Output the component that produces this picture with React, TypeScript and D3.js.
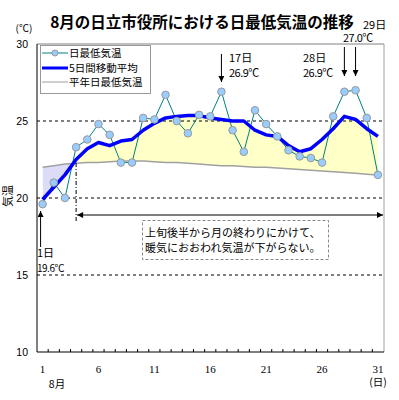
import * as d3 from "d3";

const days = d3.range(1, 32);
const minTemp = [
  19.6, 21.0, 20.0, 23.3, 23.8, 24.8, 24.1, 22.3, 22.3, 25.2,
  25.1, 26.7, 25.0, 24.2, 25.4, 25.3, 26.9, 24.4, 23.0, 25.7,
  24.8, 24.0, 23.1, 22.7, 22.6, 22.3, 25.3, 26.9, 27.0, 25.2, 21.5,
];
const movingAvg = [
  19.9, 20.7, 21.5, 22.5, 23.2, 23.6, 23.4, 23.7, 23.8, 24.4,
  24.85, 25.2, 25.3, 25.35, 25.35, 25.2, 25.1, 25.0, 25.0, 24.4,
  24.1, 24.0, 23.4, 23.0, 23.2, 23.8, 24.5, 25.3, 25.1, 24.5, 24.0,
];
const normal = [
  22.0, 22.1, 22.2, 22.25, 22.3, 22.3, 22.35, 22.4, 22.4, 22.4,
  22.35, 22.3, 22.3, 22.25, 22.2, 22.15, 22.1, 22.1, 22.05, 22.0,
  22.0, 21.95, 21.9, 21.85, 21.8, 21.75, 21.7, 21.65, 21.6, 21.55, 21.5,
];
const yTicks = [10, 15, 20, 25, 30];
const xTickDays = [1, 6, 11, 16, 21, 26, 31];
const legendLabels = ["日最低気温", "5日間移動平均", "平年日最低気温"];

const jp = "'Noto Sans CJK JP', sans-serif";

export default function App() {
  const width = 399;
  const height = 400;
  const left = 37;
  const right = 383.5;
  const top = 44;
  const bottom = 352;

  const x = d3.scaleBand<number>().domain(days).range([left, right]).padding(0);
  const cx = (d: number) => (x(d) as number) + x.bandwidth() / 2;
  const y = d3.scaleLinear().domain([10, 30]).range([bottom, top]);

  const idx = days.map((_, i) => i);

  const tempLine = d3
    .line<number>()
    .x((i) => cx(days[i]))
    .y((i) => y(minTemp[i]));
  const maLine = d3
    .line<number>()
    .x((i) => cx(days[i]))
    .y((i) => y(movingAvg[i]));
  const normLine = d3
    .line<number>()
    .x((i) => cx(days[i]))
    .y((i) => y(normal[i]));
  const between = d3
    .area<number>()
    .x((i) => cx(days[i]))
    .y0((i) => y(normal[i]))
    .y1((i) => y(movingAvg[i]));
  const aboveClip = d3
    .area<number>()
    .x((i) => cx(days[i]))
    .y0(top)
    .y1((i) => y(normal[i]));
  const belowClip = d3
    .area<number>()
    .x((i) => cx(days[i]))
    .y0(bottom)
    .y1((i) => y(normal[i]));

  const arrowX4 = cx(4);
  const d17 = cx(17);
  const d28 = cx(28);
  const d29 = cx(29);
  const d1 = cx(1);

  return (
    <svg
      width={width}
      height={height}
      style={{ position: "absolute", left: 0, top: 0, background: "#fff" }}
    >
      <defs>
        <clipPath id="above">
          <path d={aboveClip(idx) ?? ""} />
        </clipPath>
        <clipPath id="below">
          <path d={belowClip(idx) ?? ""} />
        </clipPath>
        <marker id="ah" viewBox="0 0 10 10" refX="10" refY="5" markerWidth="8" markerHeight="6" orient="auto-start-reverse" markerUnits="userSpaceOnUse">
          <path d="M0,0 L10,5 L0,10 z" fill="#000" />
        </marker>
      </defs>

      {/* title */}
      <text x={202} y={28} textAnchor="middle" fontFamily={jp} fontWeight="bold" fontSize={15.5}>
        8月の日立市役所における日最低気温の推移
      </text>
      <text x={24} y={32} textAnchor="middle" fontFamily={jp} fontSize={10}>(℃)</text>

      {/* fills */}
      <path d={between(idx) ?? ""} fill="#FFFFC8" clipPath="url(#above)" />
      <path d={between(idx) ?? ""} fill="#DCDCF8" clipPath="url(#below)" />

      {/* grid */}
      {[15, 20, 25].map((t) => (
        <line key={t} x1={left} x2={384} y1={y(t)} y2={y(t)} stroke="#000" strokeDasharray="3,3" />
      ))}

      {/* frame */}
      <line x1={left} x2={384} y1={top} y2={top} stroke="#808080" />
      <line x1={384} x2={384} y1={top} y2={bottom} stroke="#a0a0a0" />
      <line x1={left} x2={left} y1={top} y2={bottom} stroke="#000" />
      <line x1={left} x2={384} y1={bottom} y2={bottom} stroke="#000" />
      {days.slice(1).map((d) => (
        <line key={d} x1={x(d) as number} x2={x(d) as number} y1={bottom} y2={bottom - 3} stroke="#000" />
      ))}

      {/* y tick labels */}
      {yTicks.map((t) => (
        <text key={t} x={28} y={y(t) + 4} textAnchor="end" fontFamily="'Liberation Sans', sans-serif" fontSize={10.5}>
          {t}
        </text>
      ))}
      <text transform={`translate(12,196) rotate(-90)`} textAnchor="middle" fontFamily={jp} fontSize={11}>
        気温
      </text>

      {/* x tick labels */}
      {xTickDays.map((d) => (
        <text key={d} x={cx(d)} y={373} textAnchor="middle" fontFamily="'Liberation Serif', serif" fontSize={11}>
          {d}
        </text>
      ))}
      <text x={57} y={388} textAnchor="middle" fontFamily={jp} fontSize={10.5}>8月</text>
      <text x={378} y={386} textAnchor="middle" fontFamily={jp} fontSize={10.5}>(日)</text>

      {/* series */}
      <path d={normLine(idx) ?? ""} fill="none" stroke="#a0a0a0" strokeWidth={1.5} />
      <path d={tempLine(idx) ?? ""} fill="none" stroke="#008080" strokeWidth={1} />
      <path d={maLine(idx) ?? ""} fill="none" stroke="#0000ff" strokeWidth={3.5} strokeLinejoin="round" />
      {idx.map((i) => (
        <circle key={i} cx={cx(days[i])} cy={y(minTemp[i])} r={3.8} fill="#99CCFF" stroke="#999" strokeWidth={1} />
      ))}

      {/* legend */}
      <rect x={40.5} y={45.5} width={110} height={48} fill="#fff" stroke="#999" />
      <line x1={42} x2={68} y1={53} y2={53} stroke="#008080" />
      <circle cx={55} cy={53} r={3} fill="#99CCFF" stroke="#999" />
      <line x1={42} x2={68} y1={68} y2={68} stroke="#0000ff" strokeWidth={3} />
      <line x1={42} x2={68} y1={82} y2={82} stroke="#a0a0a0" />
      {legendLabels.map((l, i) => (
        <text key={l} x={69} y={57 + i * 14.5} fontFamily={jp} fontSize={10.5}>
          {l}
        </text>
      ))}

      {/* annotations */}
      <line x1={d17} x2={d17} y1={54} y2={82} stroke="#000" markerEnd="url(#ah)" />
      <text x={229} y={62} fontFamily={jp} fontSize={11}>17日</text>
      <text x={229} y={77} fontFamily={jp} fontSize={11} letterSpacing={-0.5}>26.9℃</text>

      <line x1={d28} x2={d28} y1={47} y2={76} stroke="#000" markerEnd="url(#ah)" />
      <line x1={d29} x2={d29} y1={47} y2={76} stroke="#000" markerEnd="url(#ah)" />
      <text x={303} y={62} fontFamily={jp} fontSize={11}>28日</text>
      <text x={303} y={77} fontFamily={jp} fontSize={11} letterSpacing={-0.5}>26.9℃</text>
      <text x={363} y={29} fontFamily={jp} fontSize={11}>29日</text>
      <text x={343} y={42} fontFamily={jp} fontSize={11} letterSpacing={-0.5}>27.0℃</text>

      <line x1={d1 - 2} x2={d1 - 2} y1={247} y2={211} stroke="#000" markerEnd="url(#ah)" />
      <text x={37} y={257} fontFamily={jp} fontSize={11}>1日</text>
      <text x={37} y={272} fontFamily={jp} fontSize={10} letterSpacing={-0.5}>19.6℃</text>

      <line x1={arrowX4} x2={arrowX4} y1={163} y2={223} stroke="#000" strokeDasharray="4,2,1,2" />
      <line x1={arrowX4 + 1} x2={383} y1={215} y2={215} stroke="#000" markerStart="url(#ah)" markerEnd="url(#ah)" />

      <rect x={142.5} y={220.5} width={186} height={39} fill="#fff" stroke="#888" strokeDasharray="3,2" />
      <text x={145} y={237} fontFamily={jp} fontSize={11}>上旬後半から月の終わりにかけて、</text>
      <text x={145} y={252} fontFamily={jp} fontSize={11}>暖気におおわれ気温が下がらない。</text>
    </svg>
  );
}
